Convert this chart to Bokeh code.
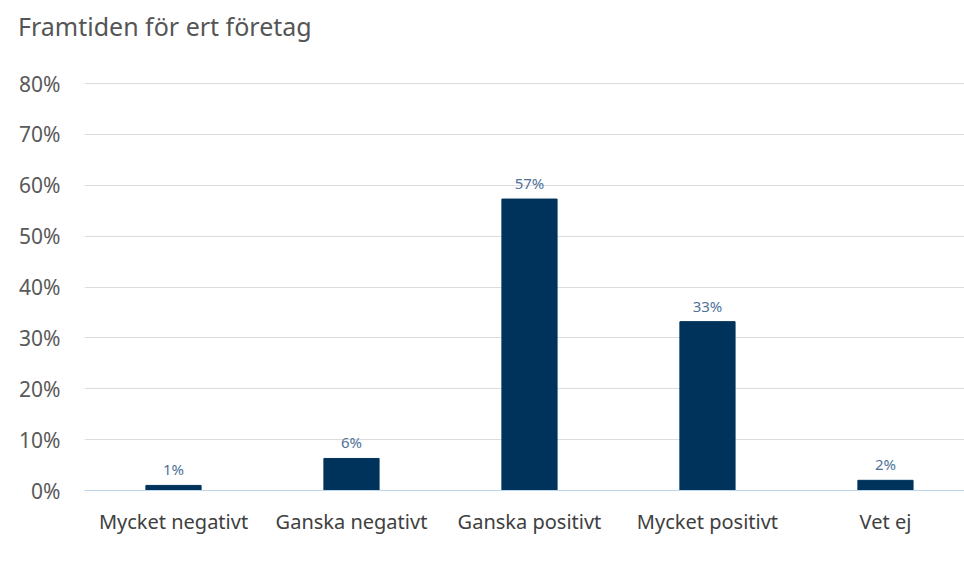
from bokeh.plotting import figure
from bokeh.models import Range1d, ColumnDataSource, FixedTicker, NumeralTickFormatter, Div
from bokeh.layouts import column
from bokeh.core.properties import value
from bokeh.embed import file_html
from bokeh.resources import INLINE

categories = ["Mycket negativt", "Ganska negativt", "Ganska positivt", "Mycket positivt", "Vet ej"]
shares = [1.0, 6.3, 57.3, 33.2, 2.0]
y_ticks = [0, 10, 20, 30, 40, 50, 60, 70, 80]
title_text = "Framtiden för ert företag"

FONT = "Noto Sans"
xs = list(range(len(categories)))
src = ColumnDataSource(dict(
    x=xs,
    top=[v / 100 for v in shares],
    label=[f"{round(v)}%" for v in shares],
))

title_div = Div(
    text=(f'<div style="text-align:center;position:relative;left:18px;padding-top:9px;'
          f'font-family:\'Noto Sans\';font-size:25px;color:#555555;line-height:34px;">'
          f'{title_text}</div>'),
    width=964, height=56, margin=0,
)

p = figure(width=964, height=532, output_backend="svg", toolbar_location=None,
           x_range=Range1d(-0.5, 4.444), y_range=Range1d(0, 0.81),
           min_border_left=84, min_border_right=0, min_border_top=22, min_border_bottom=98)
p.outline_line_color = None
p.background_fill_color = "white"
p.border_fill_color = "white"

p.vbar(x="x", top="top", width=0.31, source=src, fill_color="#00335b", line_color="#00335b")
p.text(x="x", y="top", text="label", source=src, text_align="center", text_baseline="bottom",
       y_offset=-6, text_font=value(FONT), text_font_size="15px", text_color="#4f7299")

p.xaxis.ticker = FixedTicker(ticks=xs)
p.xaxis.major_label_overrides = {i: c for i, c in enumerate(categories)}
p.xaxis.major_label_text_font = FONT
p.xaxis.major_label_text_font_size = "20px"
p.xaxis.major_label_text_color = "#404040"
p.xaxis.major_label_standoff = 11
p.xaxis.axis_line_color = "#bcd6ee"
p.xaxis.axis_line_width = 1
p.xaxis.major_tick_line_color = None
p.xaxis.minor_tick_line_color = None
p.xgrid.grid_line_color = None

p.yaxis.ticker = FixedTicker(ticks=[t / 100 for t in y_ticks])
p.yaxis.formatter = NumeralTickFormatter(format="0%")
p.yaxis.major_label_text_font = FONT
p.yaxis.major_label_text_font_size = "21px"
p.yaxis.major_label_text_color = "#595959"
p.yaxis.major_label_standoff = 18
p.yaxis.axis_line_color = None
p.yaxis.major_tick_line_color = None
p.yaxis.minor_tick_line_color = None
p.ygrid.grid_line_color = "#dcdcdc"
p.ygrid.grid_line_width = 1

layout = column(title_div, p, spacing=0)
open("out.html", "w").write(file_html(layout, INLINE))
